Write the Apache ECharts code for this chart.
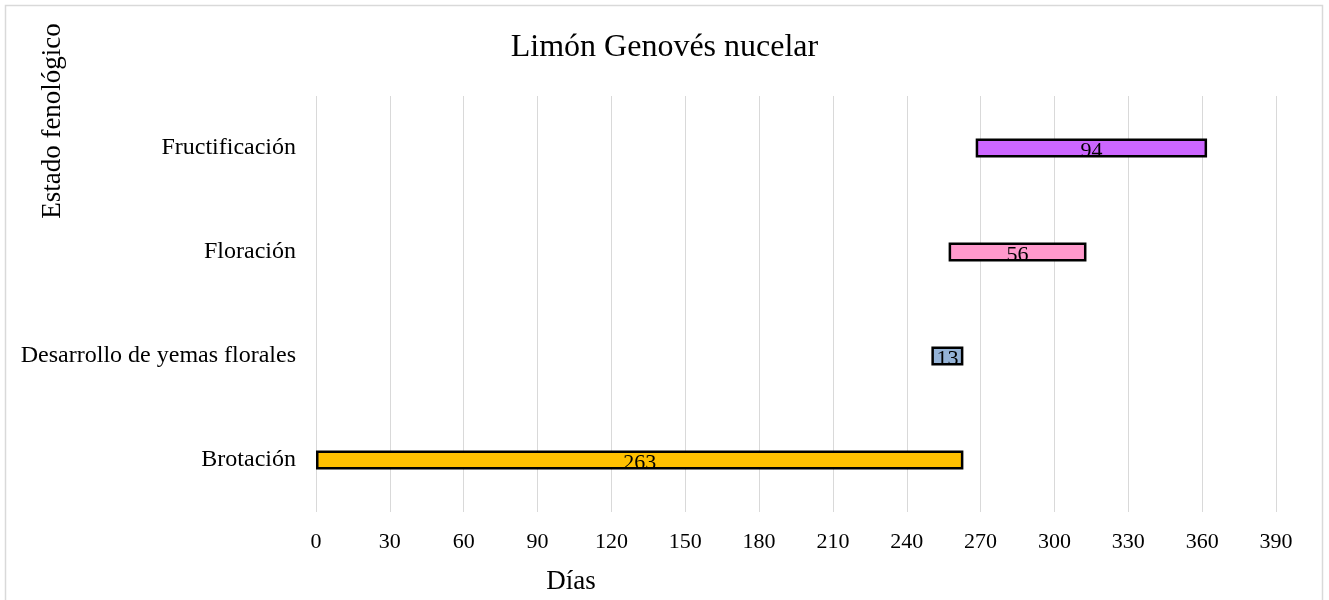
<!DOCTYPE html>
<html>
<head>
<meta charset="utf-8">
<script src="https://cdn.jsdelivr.net/npm/echarts@6/dist/echarts.min.js"></script>
<style>
  html, body { margin: 0; padding: 0; background: #fff; }
  #chart { width: 1329px; height: 600px; }
</style>
</head>
<body>
<div id="chart"></div>
<script>
// fases fenológicas (de abajo hacia arriba)
var categories = ['Brotación', 'Desarrollo de yemas florales', 'Floración', 'Fructificación'];
var startDays = [0, 250, 257, 268];
var durations = [263, 13, 56, 94];
var barColors = ['#FFC000', '#95B3D7', '#FF99CC', '#CC66FF'];
var xTicks = { min: 0, max: 390, interval: 30 };

var font = "'Liberation Serif', 'Times New Roman', serif";

var chart = echarts.init(document.getElementById('chart'));
chart.setOption({
  animation: false,
  textStyle: { fontFamily: font },
  title: {
    text: 'Limón Genovés nucelar',
    left: 'center',
    top: 27,
    textStyle: { fontFamily: font, fontSize: 32, fontWeight: 'normal', color: '#000' }
  },
  grid: { left: 316, right: 53, top: 96, bottom: 88, outerBoundsMode: 'none' },
  xAxis: {
    type: 'value',
    min: xTicks.min,
    max: xTicks.max,
    interval: xTicks.interval,
    axisLine: { show: false },
    axisTick: { show: false },
    axisLabel: { fontFamily: font, fontSize: 22, color: '#000', margin: 19 },
    splitLine: { show: true, lineStyle: { color: '#d9d9d9', width: 1 } }
  },
  yAxis: {
    type: 'category',
    data: categories,
    axisLine: { show: false },
    axisTick: { show: false },
    axisLabel: { fontFamily: font, fontSize: 24, color: '#000', margin: 20 },
    splitLine: { show: false }
  },
  graphic: [
    {
      type: 'rect',
      shape: { x: 5.5, y: 5.5, width: 1317, height: 600 },
      style: { fill: 'none', stroke: '#d9d9d9', lineWidth: 1.5 },
      silent: true
    },
    {
      type: 'text',
      x: 53,
      y: 121,
      rotation: Math.PI / 2,
      style: {
        text: 'Estado fenológico',
        font: '27px ' + font,
        fill: '#000',
        align: 'center',
        verticalAlign: 'middle'
      }
    },
    {
      type: 'text',
      x: 571,
      y: 582,
      style: {
        text: 'Días',
        font: '27px ' + font,
        fill: '#000',
        align: 'center',
        verticalAlign: 'middle'
      }
    }
  ],
  series: [
    {
      name: 'Inicio',
      type: 'bar',
      stack: 'gantt',
      barWidth: 19,
      silent: true,
      itemStyle: { color: 'transparent' },
      data: startDays
    },
    {
      name: 'Duración',
      type: 'bar',
      stack: 'gantt',
      barWidth: 19,
      data: durations.map(function (v, i) {
        return { value: v, itemStyle: { color: barColors[i] } };
      }),
      itemStyle: { borderColor: '#000', borderWidth: 2.5 },
      label: {
        show: true,
        position: 'inside',
        offset: [0, 3],
        fontFamily: font,
        fontSize: 22,
        color: '#000'
      }
    }
  ]
});
</script>
</body>
</html>
